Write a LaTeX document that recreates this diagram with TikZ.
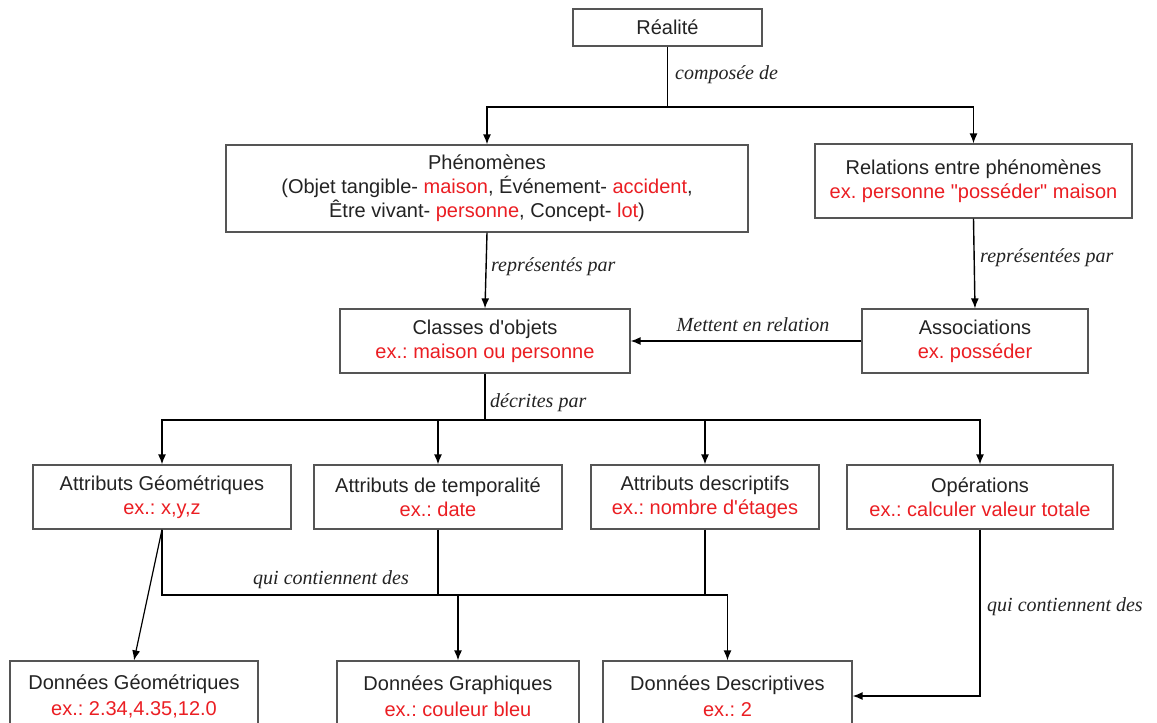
\documentclass[tikz,border=0pt]{standalone}
\usepackage{fontspec}
\setmainfont{Liberation Sans}
\newfontfamily\lblfont{Liberation Serif}
\usetikzlibrary{arrows.meta}
\definecolor{exred}{RGB}{235,30,35}
\definecolor{txt}{RGB}{35,35,35}
\definecolor{bord}{RGB}{85,85,85}
\tikzset{
  box/.style={draw=bord, line width=1.2pt, rectangle, align=center, text=txt,
    font=\fontsize{20}{24}\selectfont, inner sep=0pt},
  arr/.style={line width=1.4pt, -{Latex[length=10pt,width=8pt]}},
  ln/.style={line width=1.4pt},
  lbl/.style={font=\lblfont\itshape\fontsize{20}{24}\selectfont, text=txt, inner sep=0pt},
}
\newcommand{\exr}[1]{\textcolor{exred}{#1}}
\newcommand{\aq}{\textquotesingle}
\frenchspacing
\begin{document}
\begin{tikzpicture}[x=1pt,y=-1pt]
\useasboundingbox (0,0) rectangle (1157,723);
\fill[white] (0,0) rectangle (1157,723);
\clip (0,0) rectangle (1157,723);

% boxes
\node[box, minimum width=189pt, minimum height=37pt] (real) at (667.5,27.5) {Réalité};
\node[box, minimum width=522pt, minimum height=87pt] (phen) at (487,188.5)
  {Phénomènes\\(Objet tangible- \exr{maison}, Événement- \exr{accident},\\Être vivant- \exr{personne}, Concept- \exr{lot})};
\node[box, minimum width=317pt, minimum height=74pt] (rel) at (973.5,181)
  {Relations entre phénomènes\\\exr{ex. personne \textquotedbl posséder\textquotedbl\ maison}};
\node[box, minimum width=290pt, minimum height=64pt] (cls) at (485,341)
  {Classes d\aq objets\\\exr{ex.: maison ou personne}};
\node[box, minimum width=226pt, minimum height=64pt] (asc) at (975,341)
  {Associations\\\exr{ex. posséder}};
\node[box, minimum width=258pt, minimum height=64pt] (ag) at (162,497)
  {Attributs Géométriques\\\exr{ex.: x,y,z}};
\node[box, minimum width=248pt, minimum height=64pt] (at) at (438,497)
  {Attributs de temporalité\\\exr{ex.: date}};
\node[box, minimum width=228pt, minimum height=64pt] (ad) at (705,497)
  {Attributs descriptifs\\\exr{ex.: nombre d\aq étages}};
\node[box, minimum width=266pt, minimum height=64pt] (op) at (980,497)
  {Opérations\\\exr{ex.: calculer valeur totale}};
\node[box, minimum width=248pt, minimum height=70pt, font=\fontsize{20}{26}\selectfont] (dg) at (134,696)
  {Données Géométriques\\\exr{ex.: 2.34,4.35,12.0}};
\node[box, minimum width=242pt, minimum height=70pt, font=\fontsize{20}{26}\selectfont] (dgr) at (458,696)
  {Données Graphiques\\\exr{ex.: couleur bleu}};
\node[box, minimum width=249pt, minimum height=70pt, font=\fontsize{20}{26}\selectfont] (dd) at (727.5,696)
  {Données Descriptives\\\exr{ex.: 2}};

% connectors
\coordinate (j1) at (667.5,107);
\draw[ln] (real.south) -- (j1);
\draw[arr] (j1) -| (phen.north);
\draw[arr] (j1) -| (rel.north);
\node[lbl, anchor=west] (l1) at (675,75) {composée de};

\draw[arr] (phen.south) -- (cls.north);
\node[lbl, anchor=west] (l2) at (491,267) {représentés par};

\draw[arr] (rel.south) -- (asc.north);
\node[lbl, anchor=west] (l3) at (980,258) {représentées par};

\draw[arr] (asc.west) -- (cls.east);
\node[lbl] (l4) at (753,325) {Mettent en relation};

\coordinate (j2) at (485,420);
\draw[ln] (cls.south) -- (j2);
\draw[arr] (j2) -| (ag.north);
\draw[arr] (j2) -| (at.north);
\draw[arr] (j2) -| (ad.north);
\draw[arr] (j2) -| (op.north);
\node[lbl, anchor=west] (l5) at (490,403) {décrites par};

\draw[arr, line width=1.2pt] (ag.south) -- (dg.north);
\coordinate (bus) at (0,595);
\draw[ln] (ag.south) -- (ag.south |- bus) -- (dd.north |- bus);
\draw[arr] (dd.north |- bus) -- (dd.north);
\draw[ln] (at.south) -- (at.south |- bus);
\draw[ln] (ad.south) -- (ad.south |- bus);
\draw[arr] (dgr.north |- bus) -- (dgr.north);
\node[lbl] (l6) at (331,580) {qui contiennent des};

\draw[arr] (op.south) |- (dd.east);
\node[lbl, anchor=west] (l7) at (987,607) {qui contiennent des};
\end{tikzpicture}
\end{document}
